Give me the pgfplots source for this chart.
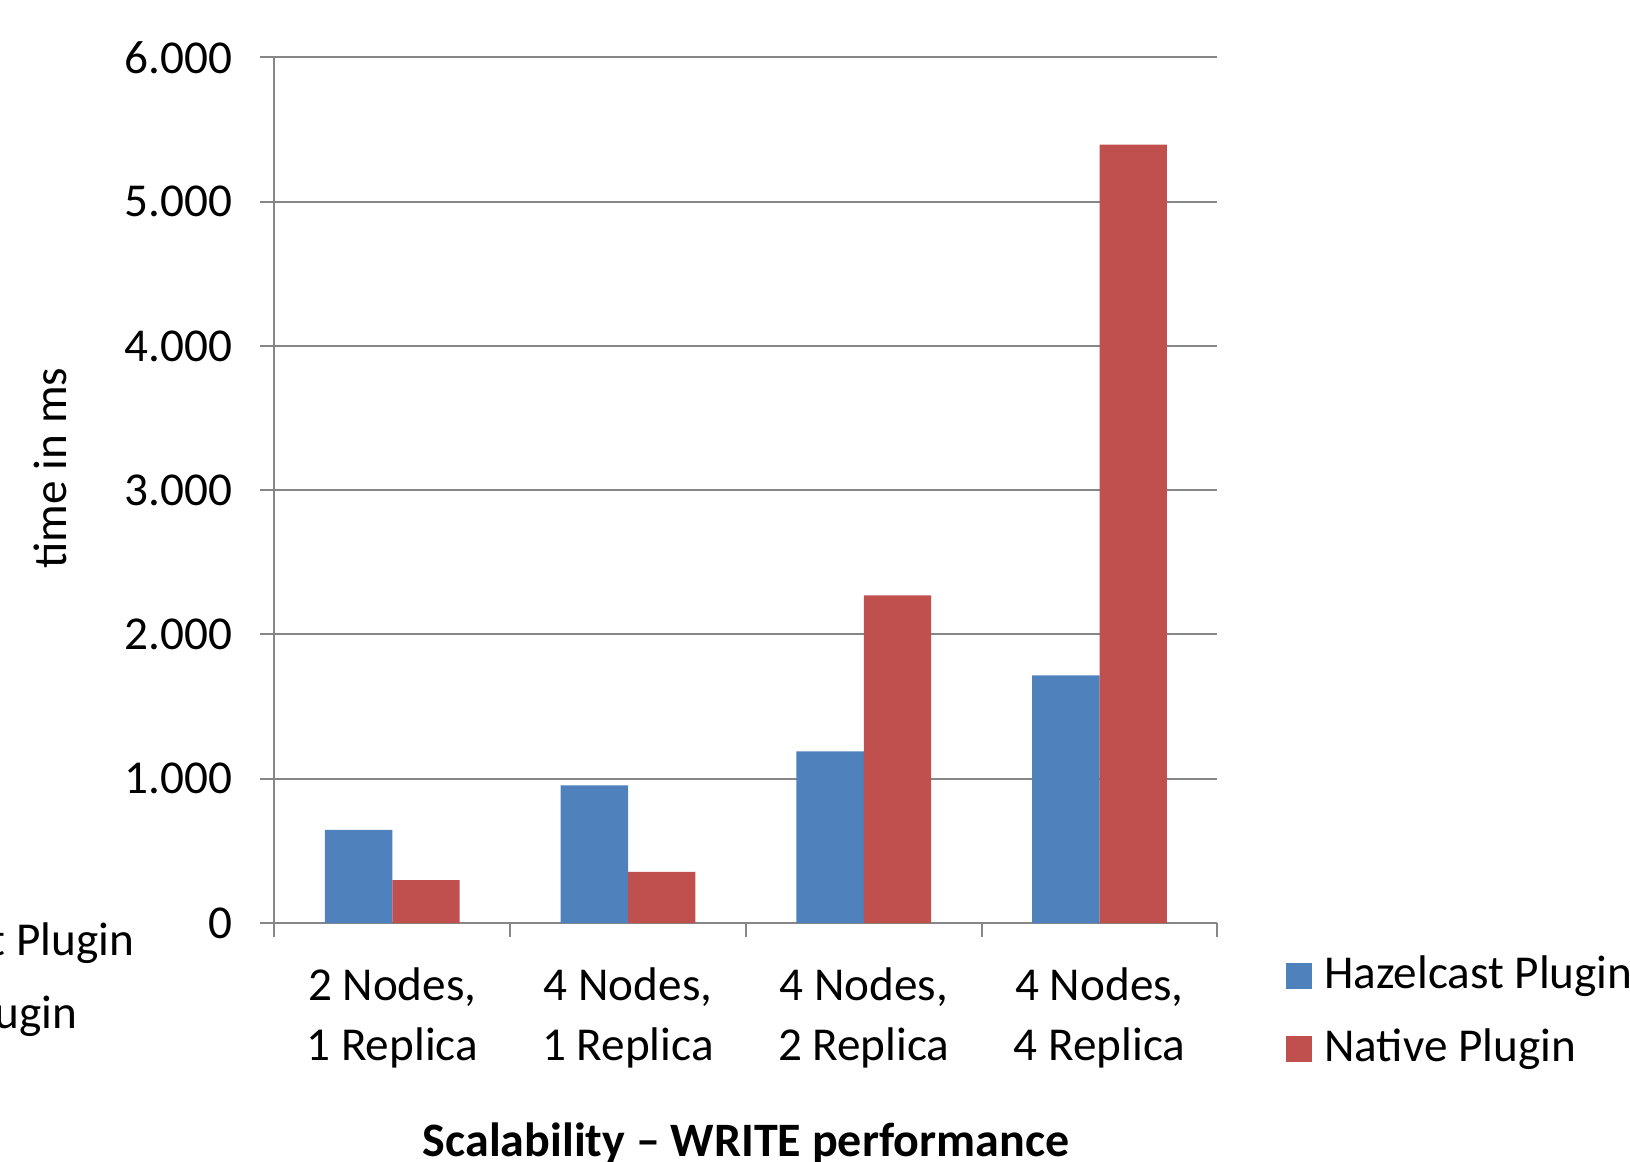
\documentclass[border=0pt]{standalone}
\usepackage{pgfplots}
\pgfplotsset{compat=1.18}
\usepackage{fontspec}
\setmainfont{Carlito}
\definecolor{hzblue}{HTML}{4F81BD}
\definecolor{ntred}{HTML}{C0504D}
\definecolor{gridgray}{HTML}{868686}
\begin{document}
\fontsize{11.8}{15}\selectfont
\begin{tikzpicture}
\useasboundingbox (0,0) rectangle (407.5pt,-290.25pt);
\clip (0,0) rectangle (407.5pt,-290.25pt);
\begin{axis}[
  at={(68.6pt,-230.75pt)}, anchor=south west,
  scale only axis, width=235.75pt, height=216.4pt,
  ybar, bar width=0.286,
  xmin=-0.5, xmax=3.5, ymin=0, ymax=6000,
  axis x line=bottom, axis y line=left,
  axis line style={-, draw=gridgray, line width=0.5pt},
  tick align=outside, major tick length=3.6pt,
  tick style={draw=gridgray, line width=0.5pt},
  ymajorgrids, grid style={draw=gridgray, line width=0.5pt},
  ytick={0,1000,2000,3000,4000,5000,6000},
  yticklabels={0,1.000,2.000,3.000,4.000,5.000,6.000},
  xtick={-0.5,0.5,1.5,2.5,3.5},
  xticklabels={{2 Nodes,\\1 Replica},{4 Nodes,\\1 Replica},{4 Nodes,\\2 Replica},{4 Nodes,\\4 Replica}},
  x tick label as interval,
  xticklabel style={align=center, font=\fontsize{11.8}{15}\selectfont, yshift=-3.4pt},
  yticklabel style={font=\fontsize{11.8}{15}\selectfont, xshift=-2.85pt},
  legend style={draw=none, fill=none, at={(1.0721,-0.028)}, anchor=north west,
    font=\fontsize{11.8}{15}\selectfont, row sep=4.3pt, inner sep=0pt,
    /tikz/every even column/.append style={column sep=0pt}},
  legend cell align=left,
  legend image code/.code={\fill[#1] (0pt,-3.25pt) rectangle (6.5pt,3.25pt);},
]
\addplot[fill=hzblue, draw=none, bar shift=-0.143] coordinates {(0,645) (1,955) (2,1190) (3,1716)};
\addplot[fill=ntred, draw=none, bar shift=0.143] coordinates {(0,298) (1,355) (2,2272) (3,5395)};
\legend{\hspace{1pt}Hazelcast Plugin, \hspace{1pt}Native Plugin}
\end{axis}
\node[rotate=90, anchor=center] at (12.7pt,-117pt) {time in ms};
\node[anchor=base, font=\bfseries\fontsize{12}{15}\selectfont] at (186.5pt,-289pt) {Scalability – WRITE performance};
\node[anchor=base east, inner sep=0pt] at (33.75pt,-238.9pt) {Hazelcast Plugin};
\node[anchor=base east, inner sep=0pt] at (19.5pt,-257.15pt) {Native Plugin};
\end{tikzpicture}
\end{document}
